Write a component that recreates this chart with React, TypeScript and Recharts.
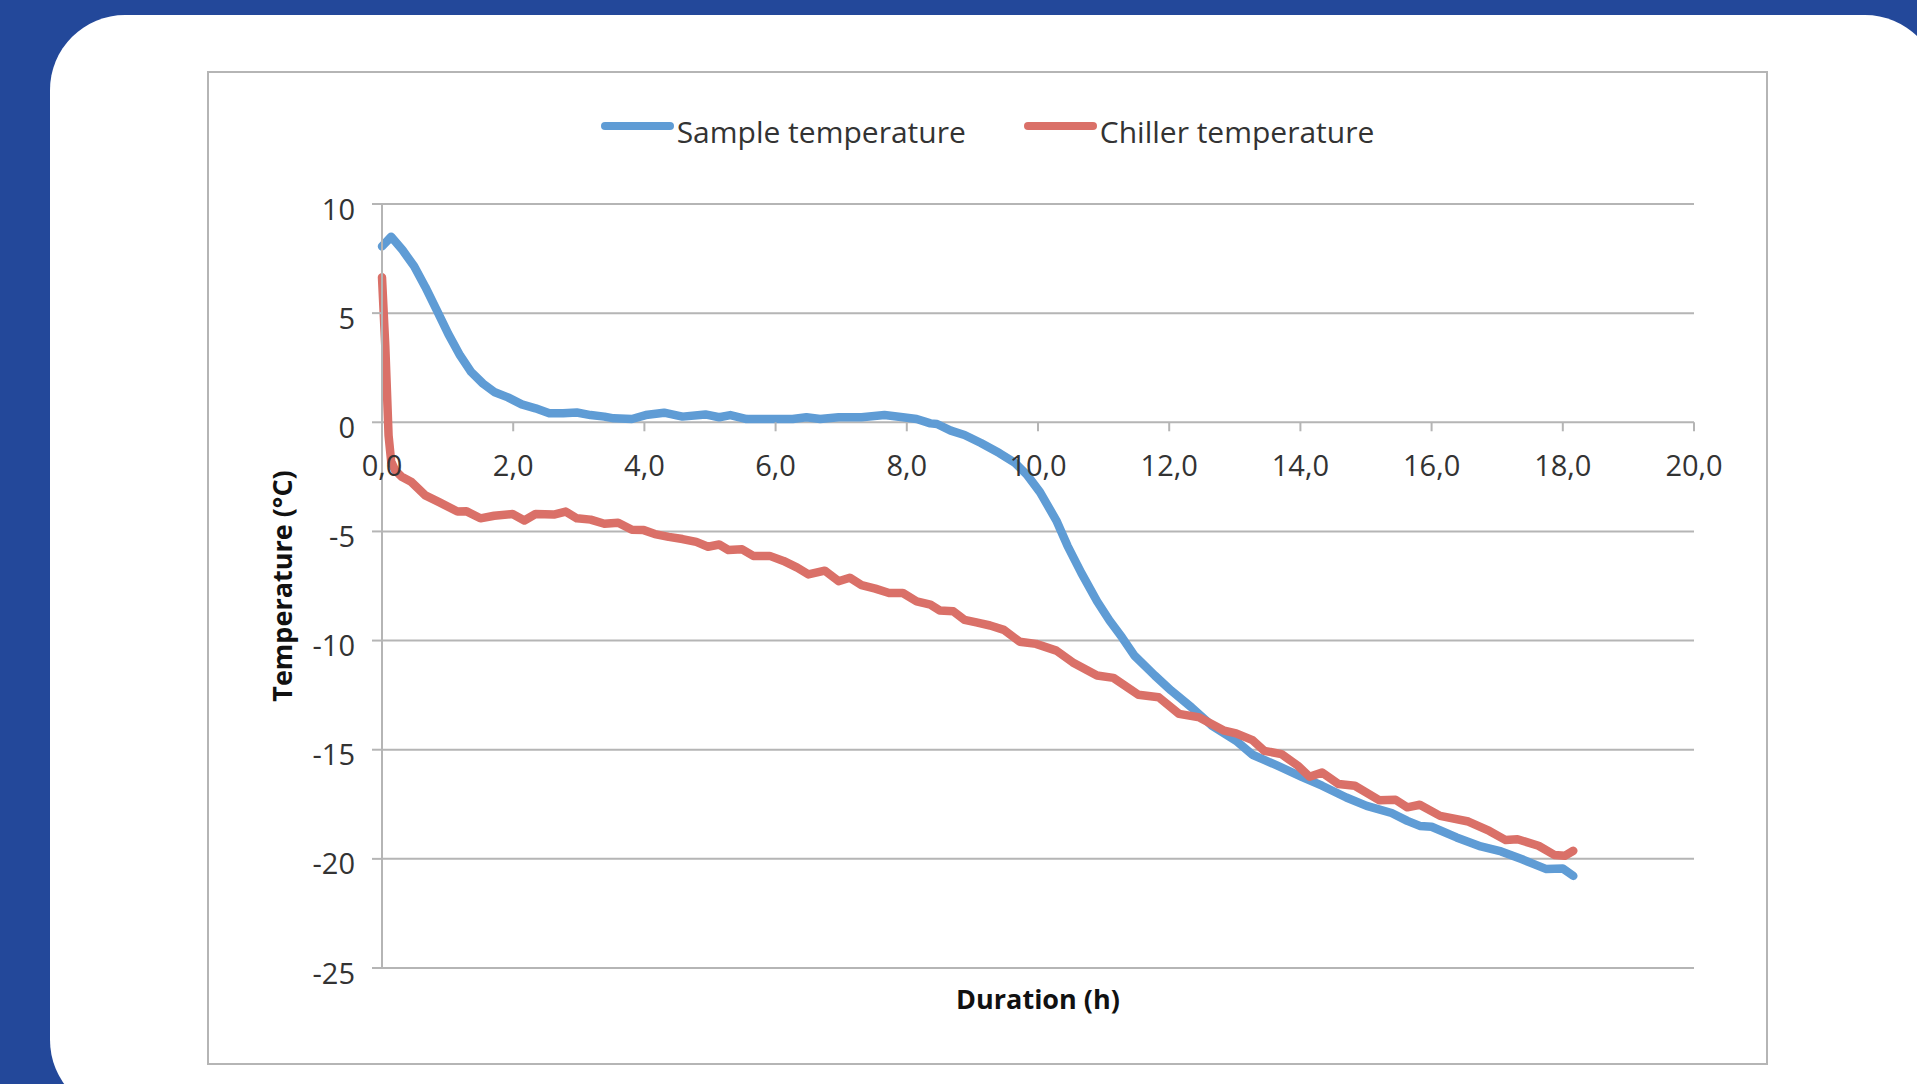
import React from 'react';
import { LineChart, Line, XAxis, YAxis, CartesianGrid, Legend } from 'recharts';

// ---- data ----
const SAMPLE_T = [0, 0.14, 0.31, 0.49, 0.66, 0.84, 1.01, 1.19, 1.36, 1.54, 1.71, 1.92, 2.13, 2.34, 2.55, 2.76, 2.97, 3.18, 3.39, 3.53, 3.81, 4.02, 4.3, 4.58, 4.93, 5.14, 5.31, 5.56, 5.98, 6.26, 6.47, 6.68, 6.96, 7.31, 7.66, 7.94, 8.15, 8.36, 8.46, 8.67, 8.88, 9.13, 9.41, 9.65, 9.83, 10.03, 10.28, 10.45, 10.66, 10.9, 11.09, 11.28, 11.47, 11.78, 12.03, 12.34, 12.65, 13.02, 13.27, 13.65, 14.02, 14.33, 14.7, 15.01, 15.39, 15.63, 15.82, 16.0, 16.38, 16.75, 17.06, 17.38, 17.56, 17.75, 18.0, 18.16];
const SAMPLE_V = [8.06, 8.5, 7.9, 7.15, 6.2, 5.1, 4.05, 3.06, 2.3, 1.77, 1.39, 1.14, 0.82, 0.64, 0.41, 0.41, 0.45, 0.33, 0.26, 0.18, 0.15, 0.33, 0.44, 0.26, 0.36, 0.23, 0.33, 0.15, 0.15, 0.15, 0.23, 0.15, 0.23, 0.23, 0.33, 0.23, 0.15, -0.05, -0.08, -0.38, -0.58, -0.95, -1.41, -1.86, -2.4, -3.2, -4.5, -5.66, -6.9, -8.2, -9.08, -9.85, -10.69, -11.6, -12.29, -13.06, -13.9, -14.59, -15.23, -15.73, -16.24, -16.65, -17.19, -17.57, -17.9, -18.26, -18.49, -18.53, -19.02, -19.43, -19.66, -20.02, -20.24, -20.47, -20.44, -20.78];

const CHILLER_T = [0, 0.05, 0.1, 0.14, 0.2, 0.3, 0.45, 0.66, 0.87, 1.15, 1.29, 1.5, 1.71, 1.99, 2.17, 2.34, 2.62, 2.8, 2.97, 3.18, 3.39, 3.6, 3.81, 3.99, 4.16, 4.37, 4.58, 4.79, 4.97, 5.14, 5.28, 5.49, 5.66, 5.91, 6.12, 6.33, 6.5, 6.75, 6.96, 7.13, 7.31, 7.52, 7.73, 7.94, 8.15, 8.36, 8.5, 8.71, 8.88, 9.06, 9.27, 9.48, 9.72, 9.97, 10.28, 10.53, 10.9, 11.15, 11.53, 11.84, 12.15, 12.46, 12.84, 13.02, 13.27, 13.45, 13.71, 13.96, 14.14, 14.33, 14.58, 14.83, 15.2, 15.45, 15.63, 15.82, 16.13, 16.56, 16.88, 17.13, 17.31, 17.63, 17.87, 18.03, 18.16];
const CHILLER_V = [6.64, 3.5, -0.6, -1.8, -2.2, -2.5, -2.74, -3.35, -3.66, -4.09, -4.08, -4.4, -4.28, -4.2, -4.5, -4.2, -4.23, -4.09, -4.4, -4.46, -4.65, -4.6, -4.92, -4.94, -5.12, -5.25, -5.35, -5.48, -5.7, -5.6, -5.85, -5.82, -6.12, -6.12, -6.35, -6.66, -6.97, -6.8, -7.28, -7.12, -7.46, -7.62, -7.82, -7.82, -8.2, -8.35, -8.62, -8.66, -9.05, -9.17, -9.31, -9.51, -10.05, -10.15, -10.46, -11.0, -11.6, -11.71, -12.48, -12.6, -13.36, -13.52, -14.13, -14.25, -14.56, -15.05, -15.2, -15.73, -16.24, -16.04, -16.57, -16.65, -17.31, -17.29, -17.64, -17.52, -18.03, -18.29, -18.72, -19.14, -19.1, -19.4, -19.82, -19.86, -19.63];

const X_TICKS = [0, 2, 4, 6, 8, 10, 12, 14, 16, 18, 20];
const Y_TICKS = [10, 5, 0, -5, -10, -15, -20, -25];
const SERIES_NAMES = ['Sample temperature', 'Chiller temperature'];
const X_TITLE = 'Duration (h)';
const Y_TITLE = 'Temperature (°C)';

const sampleData = SAMPLE_T.map((t, i) => ({ t, v: SAMPLE_V[i] }));
const chillerData = CHILLER_T.map((t, i) => ({ t, v: CHILLER_V[i] }));

// ---- style / layout ----
const FONT = '"Open Sans", sans-serif';
const GRID = '#b5b5b5';
const BLUE = '#5f9cd5';
const RED = '#da7068';
const CHART_W = 1561;
const CHART_H = 994;
const M_TOP = 133;
const M_RIGHT = 74;
const Y_W = 175;
const X_H = 97;
const PLOT_H = CHART_H - M_TOP - X_H;
const Y_MIN = -25;
const Y_MAX = 10;
const LINE_W = 8.5;

const fmt = (v: number) => v.toFixed(1).replace('.', ',');

const XTick = (p: any) => {
  const zeroY = p.y - (PLOT_H * (0 - Y_MIN)) / (Y_MAX - Y_MIN);
  return (
    <g>
      <line x1={p.x} x2={p.x} y1={zeroY} y2={zeroY + 9} stroke={GRID} strokeWidth={2} />
      <text x={p.x} y={zeroY + 42} textAnchor="middle" dominantBaseline="central" fill="#333" fontSize={29} fontFamily={FONT}>
        {fmt(p.payload.value)}
      </text>
    </g>
  );
};

const YTick = (p: any) => (
  <text x={p.x} y={p.y + 4} textAnchor="end" dominantBaseline="central" fill="#333" fontSize={29} fontFamily={FONT}>
    {p.payload.value}
  </text>
);

const LegendContent = (props: any) => {
  const payload = [...(props.payload || [])].sort(
    (a: any, b: any) => SERIES_NAMES.indexOf(a.value) - SERIES_NAMES.indexOf(b.value)
  );
  return (
    <div style={{ display: 'flex', justifyContent: 'center', alignItems: 'center', gap: 58, fontFamily: FONT }}>
      {payload.map((e: any) => (
        <div key={e.value} style={{ display: 'flex', alignItems: 'center' }}>
          <span style={{ display: 'inline-block', width: 73, height: 8, borderRadius: 4, background: e.color, marginRight: 3, position: 'relative', top: -6 }} />
          <span style={{ fontSize: 30, color: '#333', lineHeight: '42px' }}>{e.value}</span>
        </div>
      ))}
    </div>
  );
};

export default function App() {
  return (
    <div style={{ position: 'absolute', left: 0, top: 0, width: 1917, height: 1084, background: '#23489a', overflow: 'hidden' }}>
      <div style={{ position: 'absolute', left: 50, top: 15, width: 1890, height: 1100, background: '#ffffff', borderRadius: 75 }} />
      <div style={{ position: 'absolute', left: 207, top: 71, width: CHART_W, height: CHART_H, border: `2px solid ${GRID}`, boxSizing: 'border-box' }} />
      <div style={{ position: 'absolute', left: 207, top: 71, fontFamily: FONT }}>
        <LineChart width={CHART_W} height={CHART_H} margin={{ top: M_TOP, right: M_RIGHT, left: 0, bottom: 0 }}>
          <CartesianGrid horizontal vertical={false} stroke={GRID} strokeWidth={2} />
          <XAxis
            type="number"
            dataKey="t"
            domain={[0, 20]}
            ticks={X_TICKS}
            interval={0}
            height={X_H}
            axisLine={false}
            tickLine={false}
            tickSize={0}
            tickMargin={0}
            tick={(p: any) => <XTick {...p} />}
            label={{
              content: (lp: any) => {
                const vb = lp.viewBox || {};
                return (
                  <text x={vb.x + vb.width / 2} y={vb.y + 30} textAnchor="middle" dominantBaseline="central" fontWeight="bold" fontSize={27} fill="#111" fontFamily={FONT}>
                    {X_TITLE}
                  </text>
                );
              },
            }}
          />
          <YAxis
            type="number"
            domain={[Y_MIN, Y_MAX]}
            ticks={Y_TICKS}
            interval={0}
            width={Y_W}
            tickSize={10}
            tickMargin={17}
            axisLine={{ stroke: GRID, strokeWidth: 2 }}
            tickLine={{ stroke: GRID, strokeWidth: 2 }}
            tick={(p: any) => <YTick {...p} />}
            label={{
              content: (lp: any) => {
                const vb = lp.viewBox || {};
                const cx = vb.x + 74;
                const cy = vb.y + vb.height / 2;
                return (
                  <text x={cx} y={cy} transform={`rotate(-90 ${cx} ${cy})`} textAnchor="middle" dominantBaseline="central" fontWeight="bold" fontSize={27} fill="#111" fontFamily={FONT}>
                    {Y_TITLE}
                  </text>
                );
              },
            }}
          />
          <Legend
            layout="vertical"
            align="center"
            verticalAlign="middle"
            wrapperStyle={{ top: 40, left: 0, width: CHART_W, height: 44 }}
            content={LegendContent}
          />
          <Line data={sampleData} dataKey="v" name={SERIES_NAMES[0]} stroke={BLUE} strokeWidth={LINE_W} dot={false} isAnimationActive={false} strokeLinejoin="round" strokeLinecap="round" />
          <Line data={chillerData} dataKey="v" name={SERIES_NAMES[1]} stroke={RED} strokeWidth={LINE_W} dot={false} isAnimationActive={false} strokeLinejoin="round" strokeLinecap="round" />
        </LineChart>
      </div>
    </div>
  );
}
